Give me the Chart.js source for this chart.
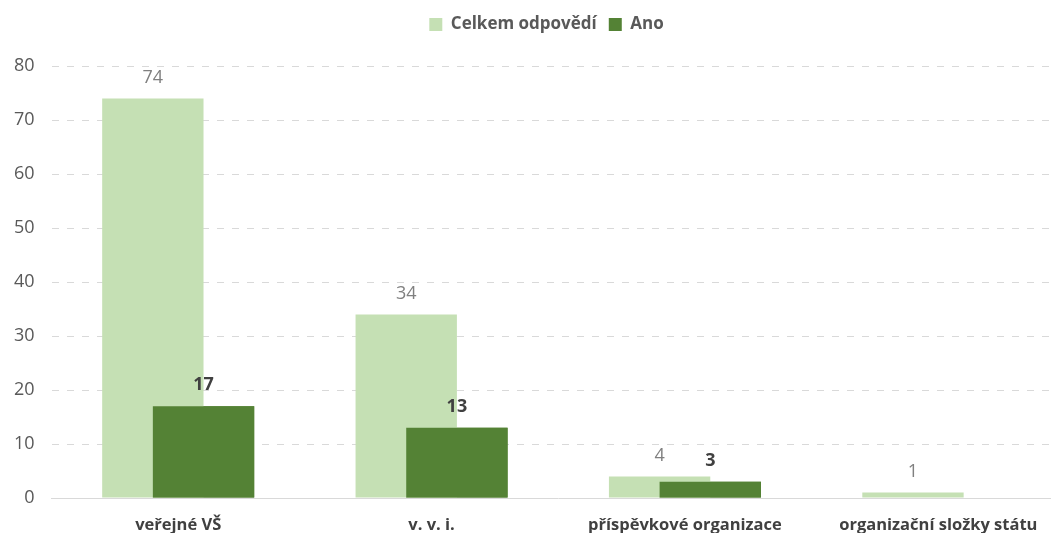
<!DOCTYPE html>
<html>
<head>
<meta charset="utf-8">
<script src="https://cdn.jsdelivr.net/npm/chart.js@4"></script>
<style>
  html, body { margin: 0; padding: 0; overflow: hidden; background: #fff; }
</style>
</head>
<body>
<canvas id="chart" width="1065" height="533"></canvas>
<script>
const categories = ['veřejné VŠ', 'v. v. i.', 'příspěvkové organizace', 'organizační složky státu'];
const celkemValues = [74, 34, 4, 1];
const anoValues = [17, 13, 3, null];
const seriesNames = ['Celkem odpovědí', 'Ano'];

const lightGreen = '#C5E0B4';
const darkGreen = '#548235';
const fontFamily = '"Open Sans", sans-serif';

// Ano bars sit on top of the Celkem bars, then value labels over everything
const barLabels = {
    id: 'barLabels',
    afterDatasetsDraw(chart) {
        const ctx = chart.ctx;
        chart.getDatasetMeta(1).controller.draw();
        chart.data.datasets.forEach((ds, di) => {
            const meta = chart.getDatasetMeta(di);
            meta.data.forEach((bar, i) => {
                const v = ds.data[i];
                if (v === null || v === undefined) return;
                ctx.save();
                ctx.font = (di === 1 ? 'bold ' : '') + '18px ' + fontFamily;
                ctx.fillStyle = di === 1 ? '#404040' : '#808080';
                ctx.textAlign = 'center';
                ctx.textBaseline = 'middle';
                ctx.fillText(String(v), bar.x, bar.y - 21);
                ctx.restore();
            });
        });
    }
};

// legend: fixed height above the plot, nudged right like the original
const legendSpace = {
    id: 'legendSpace',
    beforeInit(chart) {
        const legend = chart.legend;
        const fit = legend.fit;
        legend.fit = function () {
            fit.call(this);
            this.height = 62;
        };
        const draw = legend.draw;
        legend.draw = function () {
            this.ctx.save();
            this.ctx.translate(14, 0);
            draw.call(this);
            this.ctx.restore();
        };
    }
};

new Chart(document.getElementById('chart'), {
    type: 'bar',
    data: {
        labels: categories,
        datasets: [{
            label: seriesNames[0],
            data: celkemValues,
            backgroundColor: lightGreen,
            categoryPercentage: 0.4,
            barPercentage: 2.0
        }, {
            label: seriesNames[1],
            data: anoValues,
            backgroundColor: darkGreen,
            categoryPercentage: 0.4,
            barPercentage: 2.0
        }]
    },
    options: {
        responsive: false,
        animation: false,
        layout: { padding: { left: 0, right: 0, top: 4, bottom: 0 } },
        plugins: {
            legend: {
                position: 'top',
                labels: {
                    boxWidth: 13,
                    boxHeight: 13,
                    padding: 12,
                    color: '#595959',
                    font: { family: fontFamily, size: 17, weight: 'bold' }
                }
            },
            tooltip: { enabled: false }
        },
        scales: {
            x: {
                grid: { display: false, drawTicks: false },
                border: { display: true, color: '#d9d9d9', width: 1 },
                ticks: {
                    color: '#404040',
                    padding: 17,
                    font: { family: fontFamily, size: 16.5, weight: 'bold' }
                },
                afterFit(scale) { scale.height = 35; }
            },
            y: {
                min: 0,
                max: 80,
                ticks: {
                    stepSize: 10,
                    color: '#595959',
                    padding: 17,
                    font: { family: fontFamily, size: 18 }
                },
                grid: { color: '#d9d9d9', drawTicks: false },
                border: { display: false, dash: [7, 8] },
                afterFit(scale) { scale.width = 51.5; }
            }
        }
    },
    plugins: [barLabels, legendSpace]
});
</script>
</body>
</html>
